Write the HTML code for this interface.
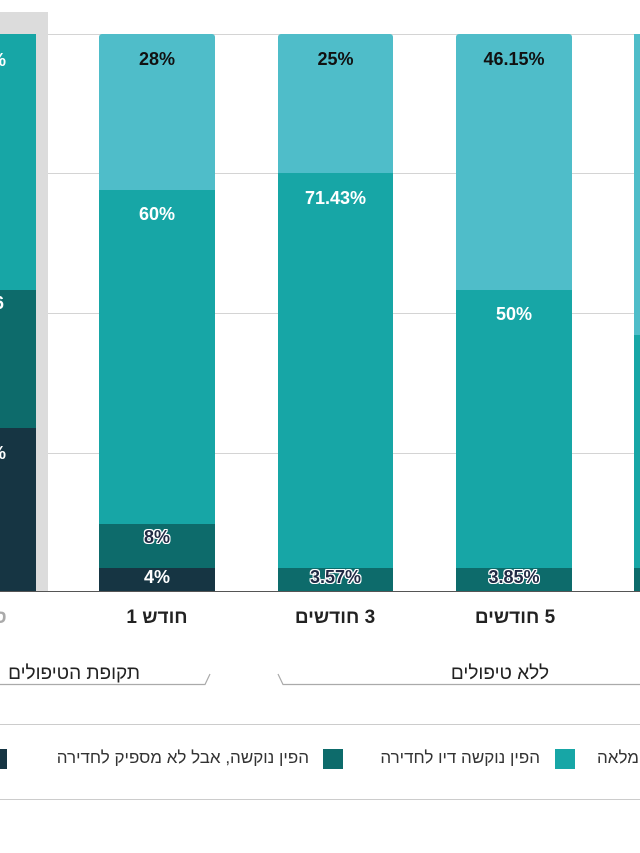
<!DOCTYPE html>
<html><head><meta charset="utf-8"><style>
body{margin:0;width:640px;height:853px;background:#fff;overflow:hidden;position:relative;font-family:"Liberation Sans","Noto Sans CJK SC",sans-serif}
.a{position:absolute}
.g{position:absolute;left:48px;width:592px;height:1px;background:#d4d4d4}
.s{position:absolute}
.l{position:absolute;font-weight:bold;font-size:18px;text-align:center}
.w{color:#fff}.k{color:#111}
.o{color:#1f2a44;text-shadow:1px 0 0 #fff,-1px 0 0 #fff,0 1px 0 #fff,0 -1px 0 #fff,1px 1px 0 #fff,-1px -1px 0 #fff,1px -1px 0 #fff,-1px 1px 0 #fff}
.x{position:absolute;font-weight:bold;font-size:19px;color:#222;top:607px;direction:rtl;text-align:center}
.lg{position:absolute;top:748px;font-size:17px;color:#333;direction:rtl;white-space:nowrap}
.sw{position:absolute;top:749px;width:20px;height:20px}
</style></head><body>
<div class="a" style="left:0;top:12px;width:48px;height:580px;background:#dcdcdc"></div>
<div class="g" style="top:34px"></div>
<div class="g" style="top:173px"></div>
<div class="g" style="top:313px"></div>
<div class="g" style="top:453px"></div>
<div class="a" style="left:0;top:591px;width:640px;height:1px;background:#555"></div>

<div class="s" style="left:0;width:36px;top:34px;height:256px;background:#17a6a6"></div>
<div class="s" style="left:0;width:36px;top:290px;height:138px;background:#0d6b6b"></div>
<div class="s" style="left:0;width:36px;top:428px;height:163px;background:#163543"></div>
<div class="l w" style="left:-10px;top:50px">%</div>
<div class="l w" style="left:-6px;top:293px">6</div>
<div class="l w" style="left:-10px;top:443px">%</div>

<div class="s" style="left:99px;width:116px;top:34px;height:156px;background:#4fbdc9;border-radius:3px 3px 0 0"></div>
<div class="s" style="left:99px;width:116px;top:190px;height:334px;background:#17a6a6"></div>
<div class="s" style="left:99px;width:116px;top:524px;height:44px;background:#0d6b6b"></div>
<div class="s" style="left:99px;width:116px;top:568px;height:23px;background:#163543"></div>
<div class="l k" style="left:99px;width:116px;top:49px">28%</div>
<div class="l w" style="left:99px;width:116px;top:204px">60%</div>
<div class="l o" style="left:99px;width:116px;top:527px">8%</div>
<div class="l w" style="left:99px;width:116px;top:567px">4%</div>

<div class="s" style="left:278px;width:115px;top:34px;height:139px;background:#4fbdc9;border-radius:3px 3px 0 0"></div>
<div class="s" style="left:278px;width:115px;top:173px;height:395px;background:#17a6a6"></div>
<div class="s" style="left:278px;width:115px;top:568px;height:23px;background:#0d6b6b"></div>
<div class="l k" style="left:278px;width:115px;top:49px">25%</div>
<div class="l w" style="left:278px;width:115px;top:188px">71.43%</div>
<div class="l o" style="left:278px;width:115px;top:567px">3.57%</div>

<div class="s" style="left:456px;width:116px;top:34px;height:256px;background:#4fbdc9;border-radius:3px 3px 0 0"></div>
<div class="s" style="left:456px;width:116px;top:290px;height:278px;background:#17a6a6"></div>
<div class="s" style="left:456px;width:116px;top:568px;height:23px;background:#0d6b6b"></div>
<div class="l k" style="left:456px;width:116px;top:49px">46.15%</div>
<div class="l w" style="left:456px;width:116px;top:304px">50%</div>
<div class="l o" style="left:456px;width:116px;top:567px">3.85%</div>

<div class="s" style="left:634px;width:10px;top:34px;height:301px;background:#4fbdc9"></div>
<div class="s" style="left:634px;width:10px;top:335px;height:233px;background:#17a6a6"></div>
<div class="s" style="left:634px;width:10px;top:568px;height:23px;background:#0d6b6b"></div>

<div class="x" style="left:99px;width:116px">חודש 1</div>
<div class="x" style="left:270px;width:130px">3 חודשים</div>
<div class="x" style="left:450px;width:130px">5 חודשים</div>
<div class="x" style="left:-20px;width:40px;color:#aaa">ס</div>

<svg class="a" style="left:0;top:660px" width="640" height="40">
<path d="M0 24.5H205L210 14" stroke="#aaa" stroke-width="1.2" fill="none"/>
<path d="M278 14L283 24.5H640" stroke="#aaa" stroke-width="1.2" fill="none"/>
</svg>
<div class="a" style="left:-60px;width:200px;top:663px;font-size:19px;color:#222;direction:rtl;text-align:right">תקופת הטיפולים</div>
<div class="a" style="left:420px;width:160px;top:663px;font-size:19px;color:#222;direction:rtl;text-align:center">ללא טיפולים</div>

<div class="a" style="left:0;top:724px;width:640px;height:1px;background:#ccc"></div>
<div class="a" style="left:0;top:799px;width:640px;height:1px;background:#ccc"></div>
<div class="sw" style="left:-13px;background:#163543"></div>
<div class="lg" style="right:331px">הפין נוקשה, אבל לא מספיק לחדירה</div>
<div class="sw" style="left:323px;background:#0d6b6b"></div>
<div class="lg" style="right:100px">הפין נוקשה דיו לחדירה</div>
<div class="sw" style="left:555px;background:#17a6a6"></div>
<div class="lg" style="left:597px">מלאה</div>
</body></html>
